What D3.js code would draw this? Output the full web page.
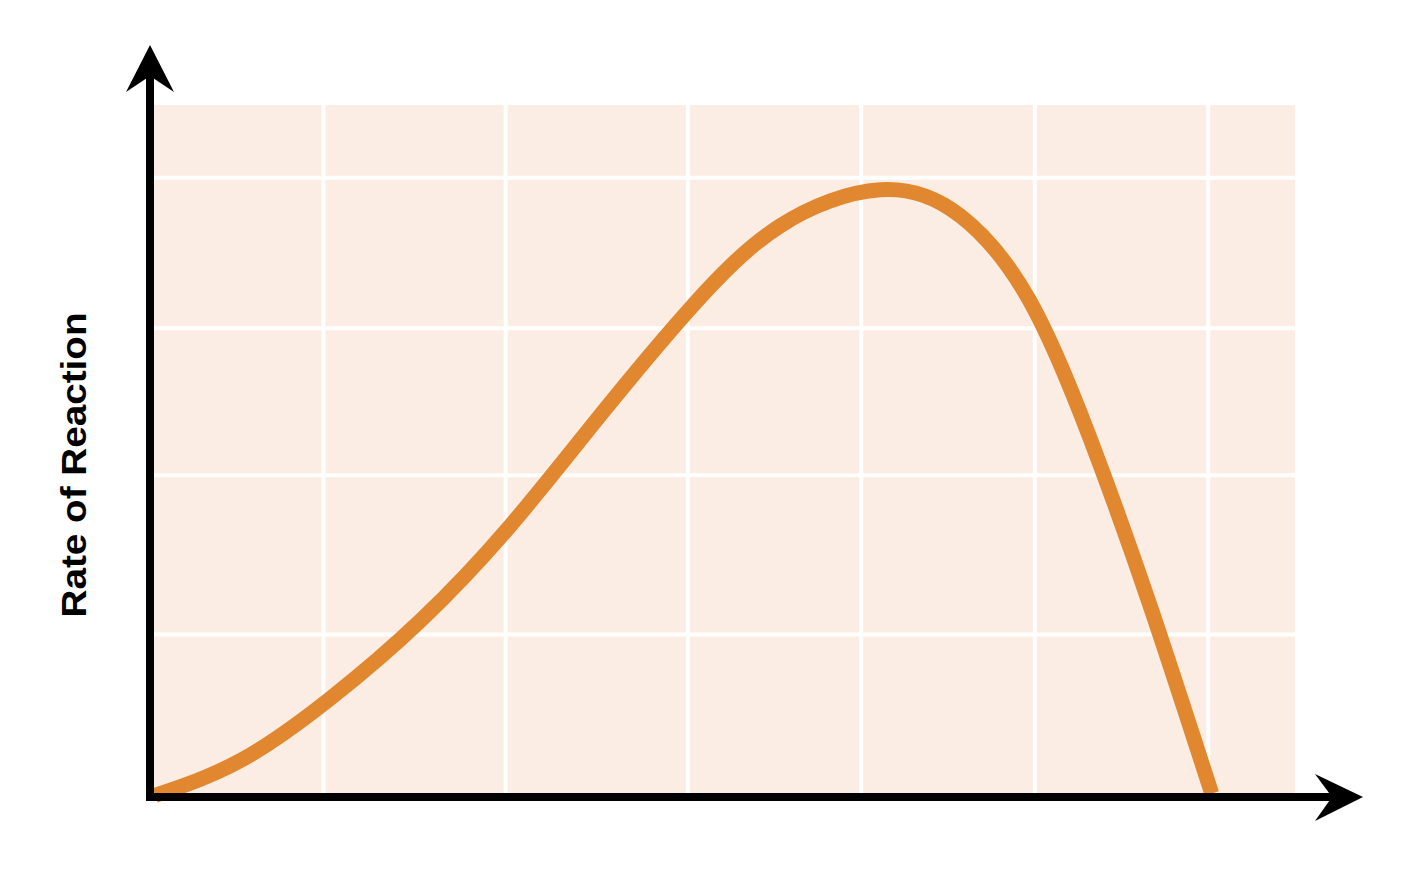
<!DOCTYPE html>
<html>
<head>
<meta charset="utf-8">
<script src="https://cdn.jsdelivr.net/npm/d3@7/dist/d3.min.js"></script>
<style>
  html, body { margin: 0; padding: 0; background: #ffffff; }
  svg { display: block; }
</style>
</head>
<body>
<svg id="chart" width="1420" height="876"></svg>
<script>
// ---- data (abstract units: x = temperature-like, y = rate of reaction) ----
const curveX = [0.03, 0.52, 1.04, 1.56, 2.07, 2.59, 3.11, 3.63, 4.21, 4.67, 5.07, 5.42, 5.76, 6.12];
const curveY = [0.01, 0.21, 0.57, 1.02, 1.56, 2.20, 2.82, 3.30, 3.51, 3.36, 2.87, 2.07, 1.12, 0.02];
const xGridTicks = [1.0, 2.05, 3.1, 4.1, 5.1, 6.1];
const yGridTicks = [0.94, 1.86, 2.71, 3.58];
const yLabel = "Rate of Reaction";

// ---- layout ----
const svg = d3.select("#chart");
const x = d3.scaleLinear().domain([0, 6.6]).range([150, 1295]);
const y = d3.scaleLinear().domain([0, 4]).range([797, 105]);

// plot background
svg.append("rect")
  .attr("x", x(0)).attr("y", y(4))
  .attr("width", x(6.6) - x(0)).attr("height", y(0) - y(4))
  .attr("fill", "#fbede3");

// grid lines
const grid = svg.append("g").attr("stroke", "#ffffff").attr("stroke-width", 4);
grid.selectAll("line.v").data(xGridTicks).join("line")
  .attr("class", "v")
  .attr("x1", d => x(d)).attr("x2", d => x(d))
  .attr("y1", y(4)).attr("y2", y(0));
grid.selectAll("line.h").data(yGridTicks).join("line")
  .attr("class", "h")
  .attr("x1", x(0)).attr("x2", x(6.6))
  .attr("y1", d => y(d)).attr("y2", d => y(d));

// curve
const pts = curveX.map((v, i) => [v, curveY[i]]);
const line = d3.line()
  .x(d => x(d[0])).y(d => y(d[1]))
  .curve(d3.curveNatural);
svg.append("path")
  .datum(pts)
  .attr("d", line)
  .attr("fill", "none")
  .attr("stroke", "#e0872f")
  .attr("stroke-width", 15)
  .attr("stroke-linecap", "butt");

// axes
const axisColor = "#000000";
svg.append("line")
  .attr("x1", x(0)).attr("x2", x(0))
  .attr("y1", y(0) + 4).attr("y2", 70)
  .attr("stroke", axisColor).attr("stroke-width", 8);
svg.append("line")
  .attr("x1", x(0) - 4).attr("x2", 1340)
  .attr("y1", y(0)).attr("y2", y(0))
  .attr("stroke", axisColor).attr("stroke-width", 8);

// arrow heads
const ax0 = x(0), ay0 = y(0);
svg.append("path")
  .attr("d", `M${ax0},45 L${ax0 + 24},92 L${ax0},76 L${ax0 - 24},92 Z`)
  .attr("fill", axisColor);
svg.append("path")
  .attr("d", `M1363,${ay0} L1315,${ay0 - 23} L1332,${ay0} L1315,${ay0 + 24} Z`)
  .attr("fill", axisColor);

// y-axis label
svg.append("text")
  .attr("transform", `translate(86,465) rotate(-90)`)
  .attr("text-anchor", "middle")
  .attr("font-family", "Liberation Sans, Arial, Helvetica, sans-serif")
  .attr("font-weight", "bold")
  .attr("font-size", 35)
  .attr("textLength", 305)
  .attr("lengthAdjust", "spacingAndGlyphs")
  .attr("fill", "#000000")
  .text(yLabel);
</script>
</body>
</html>
